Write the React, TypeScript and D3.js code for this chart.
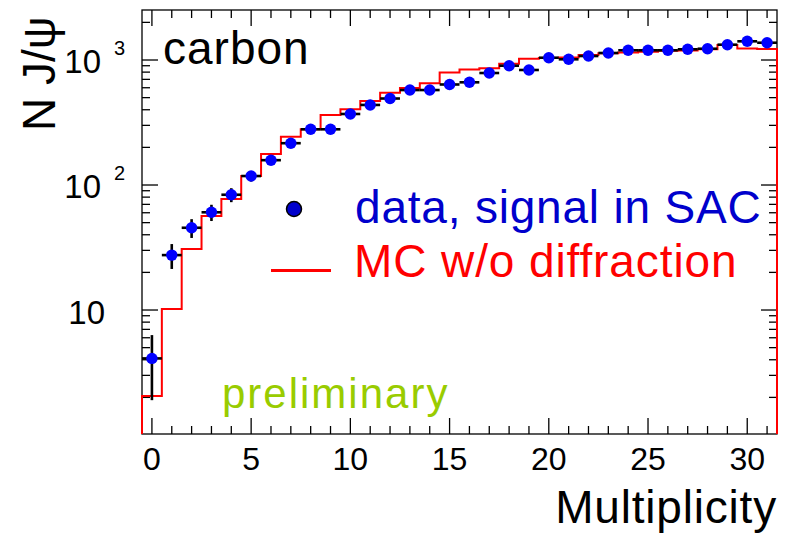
import React from "react";
import * as d3 from "d3";

// J/psi yield versus multiplicity, carbon target
const multiplicity = [0, 1, 2, 3, 4, 5, 6, 7, 8, 9, 10, 11, 12, 13, 14, 15, 16, 17, 18, 19, 20, 21, 22, 23, 24, 25, 26, 27, 28, 29, 30, 31];
const dataCounts = [4.1, 27.5, 45.5, 60.5, 83.6, 118, 158, 216, 279, 279, 370, 437, 492, 575, 575, 637, 663, 787, 900, 832, 1043, 1013, 1076, 1138, 1196, 1196, 1196, 1218, 1231, 1326, 1411, 1375];
const dataErrors = [2.2, 6.2, 7.8, 9.0, 10.7, 11.5, 13, 15, 17, 17, 19, 21, 22, 24, 24, 25, 26, 28, 30, 29, 32, 32, 33, 34, 35, 35, 35, 35, 35, 36, 38, 37];
const mcCounts = [2.05, 10.2, 30.8, 56.5, 77.3, 118, 177, 243, 279, 363, 403, 470, 548, 597, 651, 794, 838, 858, 935, 1025, 1040, 1045, 1096, 1130, 1150, 1165, 1187, 1190, 1218, 1320, 1235, 1225];

const xTickValues = [0, 5, 10, 15, 20, 25, 30];
const yMajorTicks = [10, 100, 1000];
const yMinorTicks = [2, 3, 4, 5, 6, 7, 8, 9, 20, 30, 40, 50, 60, 70, 80, 90, 200, 300, 400, 500, 600, 700, 800, 900, 2000];
const yTickLabels = [
  { value: 1000, base: "10", exp: "3" },
  { value: 100, base: "10", exp: "2" },
  { value: 10, base: "10", exp: "" },
];

const W = 787;
const H = 534;
const left = 142;
const right = 777;
const top = 10;
const bottom = 434;

const FONT = "'Liberation Sans', Arial, Helvetica, sans-serif";

export default function App() {
  const x = d3.scaleLinear().domain([-0.5, 31.5]).range([left, right]);
  const y = d3.scaleLog().domain([1.019, 2512]).range([bottom, top]);

  // histogram outline as a step path over bin edges
  const stepPts: [number, number][] = [[x(-0.5), bottom]];
  multiplicity.forEach((m, i) => {
    stepPts.push([x(m - 0.5), y(mcCounts[i])]);
    stepPts.push([x(m + 0.5), y(mcCounts[i])]);
  });
  stepPts.push([x(31.5), bottom]);
  const stepPath = d3.line()(stepPts) || "";

  const minorX = multiplicity.filter((m) => m % 5 !== 0);

  return (
    <svg width={W} height={H} style={{ position: "absolute", left: 0, top: 0, background: "#fff" }} fontFamily={FONT}>
      <rect x={0} y={0} width={W} height={H} fill="#fff" />

      {/* frame */}
      <rect x={left} y={top} width={right - left} height={bottom - top} fill="none" stroke="#000" strokeWidth={1.3} />

      {/* x ticks, bottom and top */}
      {xTickValues.map((t) => (
        <g key={"xM" + t}>
          <line x1={x(t)} x2={x(t)} y1={bottom} y2={bottom - 16} stroke="#000" strokeWidth={1.3} />
          <line x1={x(t)} x2={x(t)} y1={top} y2={top + 16} stroke="#000" strokeWidth={1.3} />
        </g>
      ))}
      {minorX.map((t) => (
        <g key={"xm" + t}>
          <line x1={x(t)} x2={x(t)} y1={bottom} y2={bottom - 8} stroke="#000" strokeWidth={1.3} />
          <line x1={x(t)} x2={x(t)} y1={top} y2={top + 8} stroke="#000" strokeWidth={1.3} />
        </g>
      ))}

      {/* y ticks, left and right */}
      {yMajorTicks.map((t) => (
        <g key={"yM" + t}>
          <line x1={left} x2={left + 16} y1={y(t)} y2={y(t)} stroke="#000" strokeWidth={1.3} />
          <line x1={right} x2={right - 16} y1={y(t)} y2={y(t)} stroke="#000" strokeWidth={1.3} />
        </g>
      ))}
      {yMinorTicks.map((t) => (
        <g key={"ym" + t}>
          <line x1={left} x2={left + 8} y1={y(t)} y2={y(t)} stroke="#000" strokeWidth={1.3} />
          <line x1={right} x2={right - 8} y1={y(t)} y2={y(t)} stroke="#000" strokeWidth={1.3} />
        </g>
      ))}

      {/* x tick labels */}
      {xTickValues.map((t) => (
        <text key={"xl" + t} x={x(t)} y={470} fontSize={32} textAnchor="middle" fill="#000">
          {t}
        </text>
      ))}

      {/* y tick labels */}
      {yTickLabels.map((l) =>
        l.exp ? (
          <g key={"yl" + l.value}>
            <text x={101} y={y(l.value) + 13} fontSize={33} textAnchor="end" fill="#000">
              {l.base}
            </text>
            <text x={114} y={y(l.value) - 5} fontSize={20} textAnchor="start" fill="#000">
              {l.exp}
            </text>
          </g>
        ) : (
          <text key={"yl" + l.value} x={105} y={y(l.value) + 14} fontSize={33} textAnchor="end" fill="#000">
            {l.base}
          </text>
        )
      )}

      {/* axis titles */}
      <text x={777} y={523} fontSize={46} textAnchor="end" fill="#000" letterSpacing={0.8}>
        Multiplicity
      </text>
      <text transform="translate(55,131) rotate(-90)" fontSize={46} textAnchor="start" fill="#000">
        N J/ψ
      </text>

      {/* MC histogram */}
      <path d={stepPath} fill="none" stroke="#ff0000" strokeWidth={2} />

      {/* data error bars */}
      {multiplicity.map((m, i) => (
        <g key={"e" + m} stroke="#000" strokeWidth={2.6}>
          <line x1={x(m - 0.5)} x2={x(m + 0.5)} y1={y(dataCounts[i])} y2={y(dataCounts[i])} />
          <line
            x1={x(m)}
            x2={x(m)}
            y1={y(dataCounts[i] + dataErrors[i])}
            y2={y(Math.max(dataCounts[i] - dataErrors[i], 1.02))}
          />
        </g>
      ))}
      {/* data points */}
      {multiplicity.map((m, i) => (
        <circle key={"p" + m} cx={x(m)} cy={y(dataCounts[i])} r={5.7} fill="#0000ff" />
      ))}

      {/* labels */}
      <text x={163} y={64} fontSize={46} fill="#000" letterSpacing={1}>
        carbon
      </text>
      <text x={222} y={408} fontSize={42} fill="#99cc00" letterSpacing={2}>
        preliminary
      </text>

      {/* legend */}
      <circle cx={294} cy={209} r={7.5} fill="#0000cc" stroke="#000" strokeWidth={1.5} />
      <text x={355} y={223} fontSize={46} fill="#0000cc" letterSpacing={0.8}>
        data, signal in SAC
      </text>
      <line x1={271} x2={331} y1={270.5} y2={270.5} stroke="#ff0000" strokeWidth={3} />
      <text x={354} y={277} fontSize={46} fill="#ff0000" letterSpacing={0.9}>
        MC w/o diffraction
      </text>
    </svg>
  );
}
